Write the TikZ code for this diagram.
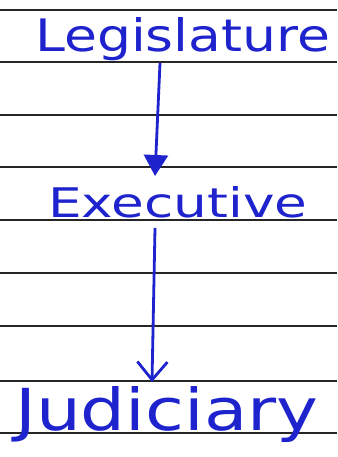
\documentclass[tikz,border=0pt]{standalone}
\usepackage{fontspec}
\setmainfont{DejaVu Sans}
\usetikzlibrary{arrows.meta}
\definecolor{ink}{RGB}{30,35,205}
\begin{document}
\begin{tikzpicture}[x=1bp,y=-1bp,
  rule/.style={line width=1.2bp, black!85},
  word/.style={inner sep=0pt, anchor=base west, text=ink},
  link/.style={draw=ink, line width=2.8bp}]
\useasboundingbox (0,0) rectangle (337,457);
\fill[white] (0,0) rectangle (337,457);
\foreach \y in {10,62,115,167,220,273,326,381,433} \draw[rule] (0,\y) -- (337,\y);
\node[word] (leg) at (35,52) {\resizebox{295bp}{34bp}{Legislature}};
\node[word] (exe) at (48,218) {\resizebox{259bp}{31bp}{Executive}};
\node[word] (jud) at (15,430) {\resizebox{303bp}{44bp}{Judiciary}};
\coordinate (a1) at (160,63);
\coordinate (b1) at (155,176);
\coordinate (a2) at (155,228);
\coordinate (b2) at (152,382);
\draw[link, -{Triangle[length=21bp,width=24bp,fill=ink]}] (a1) -- (b1);
\draw[link, -{Straight Barb[length=18bp,width=30bp]}] (a2) -- (b2);
\end{tikzpicture}
\end{document}
